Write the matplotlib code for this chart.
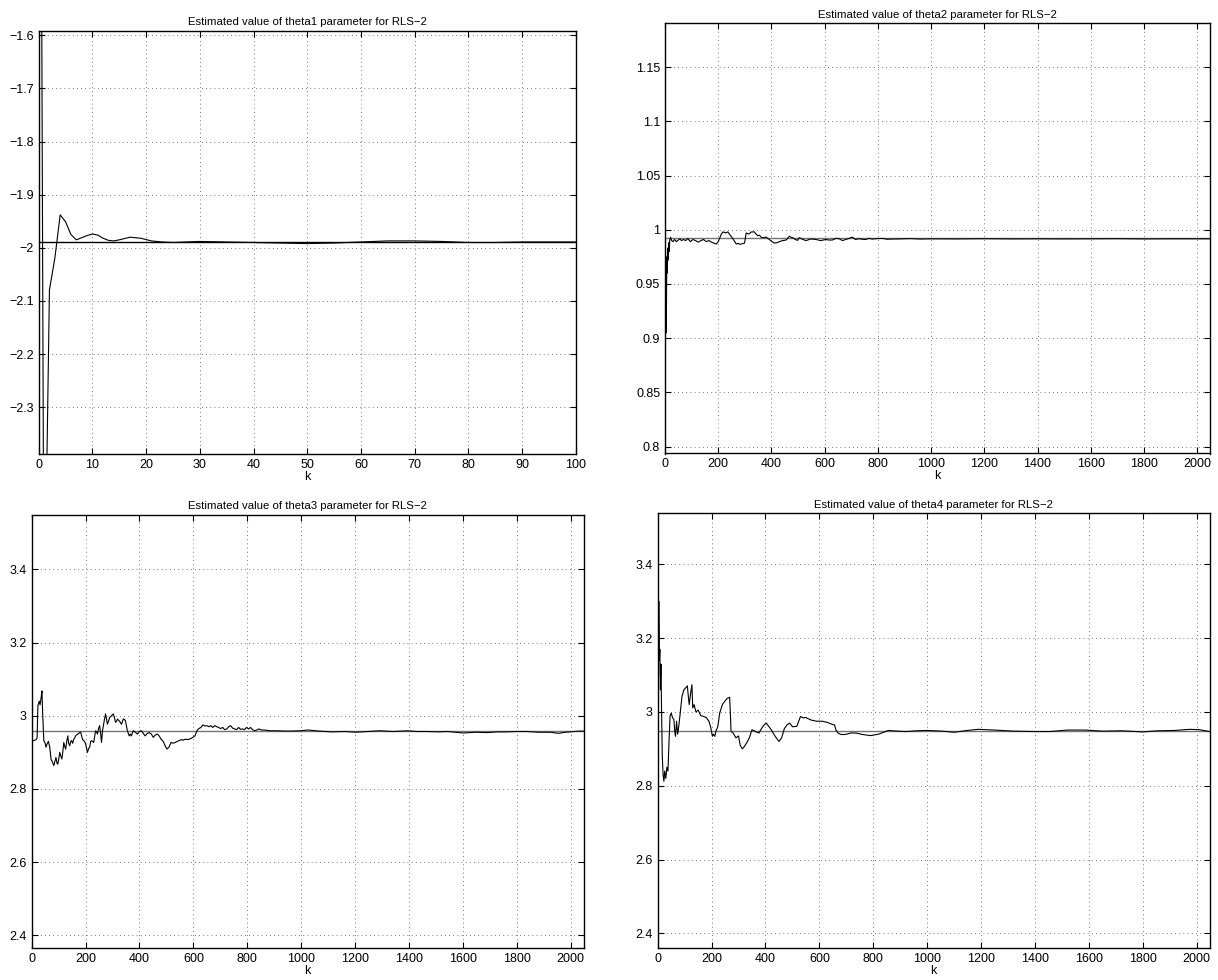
import numpy as np
import matplotlib
matplotlib.use('Agg')
import matplotlib.pyplot as plt

plt.rcParams['font.family'] = ['Liberation Sans', 'DejaVu Sans']
plt.rcParams['font.size'] = 9

# ---- theta1 (k = 0..100)
k1 = [0, 1, 2, 3, 4, 5, 6, 7, 8, 9, 10, 11, 12, 13, 14, 15, 17, 19, 21, 23, 25,
      30, 35, 40, 45, 50, 55, 60, 65, 70, 75, 80, 85, 90, 100]
th1 = [0.0, -2.76, -2.079, -2.02, -1.938, -1.951, -1.975, -1.985, -1.981, -1.977,
       -1.974, -1.976, -1.982, -1.986, -1.987, -1.985, -1.980, -1.982, -1.987,
       -1.989, -1.990, -1.988, -1.989, -1.990, -1.991, -1.992, -1.991, -1.989,
       -1.987, -1.987, -1.988, -1.990, -1.990, -1.989, -1.989]
ref1 = -1.99

# ---- theta2
k2 = [1, 2, 3, 5, 6, 7, 8, 10, 12, 14, 16, 18, 21, 25, 30, 36, 43, 50, 56, 62, 70,
      78, 86, 95, 105, 115, 125, 135, 145, 155, 165, 175, 185, 193, 200, 205,
      212, 218, 228, 236, 245, 255, 262, 268, 275, 280, 290, 299, 305, 315, 325,
      336, 342, 349, 355, 362, 368, 380, 392, 402, 411, 420, 430, 442, 455, 461,
      467, 474, 480, 490, 498, 505, 518, 530, 548, 567, 585, 604, 616, 629, 642,
      654, 667, 679, 692, 704, 716, 729, 742, 754, 767, 779, 797, 816, 835, 853,
      880, 920, 960, 1000, 1100, 1200, 1300, 1400, 1500, 1600, 1700, 1800, 1900,
      2000, 2048]
th2 = [0.99, 0.975, 0.96, 0.905, 0.95, 0.975, 0.96, 0.983, 0.972, 0.988, 0.980,
       0.991, 0.993, 0.990, 0.989, 0.991, 0.989, 0.9905, 0.9915, 0.990, 0.991,
       0.990, 0.992, 0.989, 0.991, 0.990, 0.9885, 0.990, 0.991, 0.989, 0.990,
       0.9885, 0.9875, 0.9868, 0.989, 0.992, 0.996, 0.998, 0.997, 0.998, 0.995,
       0.9917, 0.989, 0.9868, 0.9875, 0.9865, 0.987, 0.9877, 0.997, 0.996, 0.998,
       0.998, 0.996, 0.9945, 0.995, 0.993, 0.9926, 0.9932, 0.991, 0.989, 0.9877,
       0.988, 0.989, 0.990, 0.9905, 0.992, 0.994, 0.993, 0.9926, 0.991, 0.9902,
       0.9926, 0.991, 0.990, 0.9915, 0.991, 0.990, 0.991, 0.9905, 0.9905, 0.992,
       0.9917, 0.990, 0.991, 0.992, 0.9932, 0.991, 0.9917, 0.9912, 0.991, 0.992,
       0.9914, 0.9918, 0.992, 0.9912, 0.9914, 0.9915, 0.9918, 0.9914, 0.9916,
       0.9915, 0.9917, 0.9915, 0.9916, 0.9915, 0.9916, 0.9917, 0.9915, 0.9916,
       0.9916, 0.9916]
ref2 = 0.992

# ---- theta3
k3 = [0, 8, 16, 20, 23, 28, 31, 35, 38, 41, 45, 50, 53, 57, 62, 67, 72, 75, 79,
      82, 86, 90, 94, 97, 101, 104, 108, 112, 116, 119, 123, 126, 130, 134, 137,
      141, 145, 148, 152, 156, 160, 163, 167, 171, 175, 178, 182, 185, 189, 193,
      196, 200, 204, 207, 211, 215, 219, 222, 226, 230, 234, 237, 241, 244, 248,
      252, 256, 259, 263, 266, 270, 274, 278, 281, 285, 289, 296, 303, 307, 311,
      315, 318, 326, 333, 337, 340, 344, 348, 352, 355, 362, 366, 370, 373, 377,
      385, 392, 400, 407, 414, 421, 429, 436, 444, 451, 458, 466, 473, 480, 488,
      495, 502, 510, 517, 525, 532, 540, 547, 555, 562, 569, 577, 584, 591, 598,
      606, 613, 620, 628, 635, 643, 650, 658, 665, 672, 679, 687, 694, 701, 709,
      716, 724, 731, 738, 746, 753, 760, 768, 775, 783, 790, 797, 805, 812, 820,
      827, 835, 842, 853, 864, 886, 908, 950, 996, 1026, 1070, 1114, 1160, 1203,
      1250, 1291, 1340, 1395, 1430, 1468, 1510, 1542, 1601, 1650, 1690, 1730,
      1763, 1800, 1837, 1880, 1925, 1955, 1980, 1999, 2030, 2048]
th3 = [2.932, 2.932, 2.935, 2.94, 3.027, 3.04, 3.03, 3.05, 3.068, 3.0, 2.932,
       2.925, 2.914, 2.923, 2.93, 2.914, 2.88, 2.877, 2.87, 2.864, 2.875, 2.886,
       2.87, 2.868, 2.885, 2.900, 2.89, 2.882, 2.905, 2.927, 2.915, 2.909, 2.93,
       2.945, 2.925, 2.918, 2.93, 2.932, 2.925, 2.936, 2.94, 2.945, 2.948, 2.950,
       2.952, 2.954, 2.955, 2.945, 2.935, 2.932, 2.93, 2.923, 2.91, 2.900, 2.91,
       2.914, 2.93, 2.932, 2.93, 2.927, 2.945, 2.959, 2.955, 2.950, 2.965, 2.973,
       2.95, 2.927, 2.96, 2.973, 2.99, 3.005, 2.99, 2.977, 2.985, 2.995, 3.0,
       3.005, 2.995, 2.982, 2.985, 2.991, 2.985, 2.977, 2.985, 2.991, 2.99,
       2.986, 2.97, 2.959, 2.945, 2.95, 2.945, 2.952, 2.959, 2.955, 2.950, 2.957,
       2.959, 2.952, 2.945, 2.952, 2.954, 2.95, 2.941, 2.947, 2.950, 2.945,
       2.936, 2.93, 2.918, 2.909, 2.915, 2.927, 2.925, 2.927, 2.93, 2.932, 2.935,
       2.933, 2.936, 2.935, 2.936, 2.938, 2.941, 2.945, 2.959, 2.965, 2.968,
       2.975, 2.972, 2.973, 2.97, 2.973, 2.968, 2.973, 2.97, 2.968, 2.965, 2.968,
       2.962, 2.964, 2.97, 2.973, 2.966, 2.964, 2.962, 2.968, 2.963, 2.964,
       2.962, 2.968, 2.964, 2.968, 2.962, 2.959, 2.961, 2.964, 2.961, 2.961,
       2.959, 2.959, 2.958, 2.959, 2.961, 2.958, 2.956, 2.957, 2.955, 2.957,
       2.959, 2.957, 2.959, 2.957, 2.957, 2.956, 2.957, 2.953, 2.955, 2.954,
       2.956, 2.956, 2.957, 2.957, 2.955, 2.955, 2.952, 2.955, 2.956, 2.958,
       2.958]
ref3 = 2.957

# ---- theta4
k4 = [1, 3, 4, 6, 8, 10, 12, 14, 17, 20, 23, 26, 30, 34, 38, 42, 46, 50, 55,
      60, 63, 66, 70, 74, 78, 84, 90, 97, 103, 110, 114, 117, 122, 127, 130, 135,
      142, 150, 160, 170, 180, 190, 196, 203, 206, 212, 216, 223, 230, 240, 250,
      258, 267, 270, 272, 280, 290, 300, 306, 314, 320, 330, 340, 350, 360, 376,
      385, 395, 403, 413, 423, 435, 450, 460, 470, 480, 490, 500, 516, 530, 540,
      549, 570, 589, 610, 629, 645, 656, 662, 669, 680, 696, 716, 736, 760, 789,
      820, 856, 890, 922, 960, 1000, 1056, 1100, 1150, 1189, 1250, 1322, 1400,
      1455, 1520, 1588, 1650, 1722, 1800, 1855, 1920, 1975, 2010, 2048]
th4 = [3.30, 3.10, 3.30, 3.14, 3.17, 3.06, 3.13, 3.02, 2.88, 2.83, 2.812, 2.84,
       2.82, 2.85, 2.84, 2.92, 2.99, 2.997, 2.985, 2.979, 2.95, 2.934, 2.975,
       2.94, 2.96, 3.00, 3.042, 3.06, 3.065, 3.071, 3.04, 3.02, 3.05, 3.074,
       3.011, 3.02, 3.00, 3.005, 2.99, 2.988, 2.985, 2.975, 2.961, 2.934, 2.94,
       2.934, 2.948, 2.96, 2.997, 3.02, 3.03, 3.037, 3.040, 2.99, 2.948, 2.943,
       2.93, 2.935, 2.91, 2.900, 2.905, 2.916, 2.93, 2.952, 2.948, 2.943, 2.955,
       2.965, 2.970, 2.96, 2.950, 2.935, 2.920, 2.93, 2.955, 2.965, 2.970, 2.960,
       2.961, 2.988, 2.984, 2.985, 2.978, 2.975, 2.975, 2.972, 2.967, 2.965,
       2.950, 2.943, 2.939, 2.939, 2.943, 2.943, 2.939, 2.936, 2.940, 2.950,
       2.948, 2.947, 2.949, 2.950, 2.948, 2.945, 2.950, 2.953, 2.951, 2.948,
       2.947, 2.947, 2.951, 2.951, 2.948, 2.949, 2.946, 2.949, 2.950, 2.953,
       2.952, 2.947]
ref4 = 2.949

titles = ['Estimated value of theta1 parameter for RLS\u22122',
          'Estimated value of theta2 parameter for RLS\u22122',
          'Estimated value of theta3 parameter for RLS\u22122',
          'Estimated value of theta4 parameter for RLS\u22122']
ks = [k1, k2, k3, k4]
ths = [th1, th2, th3, th4]
refs = [ref1, ref2, ref3, ref4]
ref_colors = ['black', '0.45', '0.45', '0.45']
xmax = [100, 2048, 2048, 2048]
xticks = [np.arange(0, 101, 10), np.arange(0, 2001, 200),
          np.arange(0, 2001, 200), np.arange(0, 2001, 200)]
yticks = [np.arange(-2.3, -1.55, 0.1), np.arange(0.8, 1.151, 0.05),
          np.arange(2.4, 3.41, 0.2), np.arange(2.4, 3.41, 0.2)]
ylabels = [['\u22122.3', '\u22122.2', '\u22122.1', '\u22122', '\u22121.9',
            '\u22121.8', '\u22121.7', '\u22121.6'],
           ['0.8', '0.85', '0.9', '0.95', '1', '1.05', '1.1', '1.15'],
           ['2.4', '2.6', '2.8', '3', '3.2', '3.4'],
           ['2.4', '2.6', '2.8', '3', '3.2', '3.4']]

# axes boxes in pixels: left, right, top, bottom
boxes = [(38.7, 575.7, 31, 454), (665, 1210, 23.3, 453.5),
         (31.7, 583.6, 515, 948), (657.7, 1209.6, 513.3, 948.3)]

W, H = 1218, 980
fig = plt.figure(figsize=(W / 100, H / 100), dpi=100)

for i in range(4):
    l, r, t, b = boxes[i]
    ax = fig.add_axes([l / W, 1 - b / H, (r - l) / W, (b - t) / H])
    ax.axhline(refs[i], color=ref_colors[i], lw=1.0, zorder=2)
    ax.plot(ks[i], ths[i], color='black', lw=0.8, zorder=3)
    ax.set_xlim(0, xmax[i])
    ax.set_ylim(refs[i] - 0.2 * abs(refs[i]), refs[i] + 0.2 * abs(refs[i]))
    ax.set_xticks(xticks[i])
    ax.set_yticks(yticks[i])
    ax.set_yticklabels(ylabels[i])
    ax.grid(True, color='0.3', linestyle=(0, (1, 4)), lw=0.6)
    ax.tick_params(direction='in', length=4, width=0.8, top=True, right=True,
                   labelsize=9, pad=3.5)
    for s in ax.spines.values():
        s.set_linewidth(1.0)
    ax.set_title(titles[i], fontsize=8.2, pad=4)
    ax.set_xlabel('k', fontsize=9, labelpad=0)

fig.savefig('out.png', dpi=100)
